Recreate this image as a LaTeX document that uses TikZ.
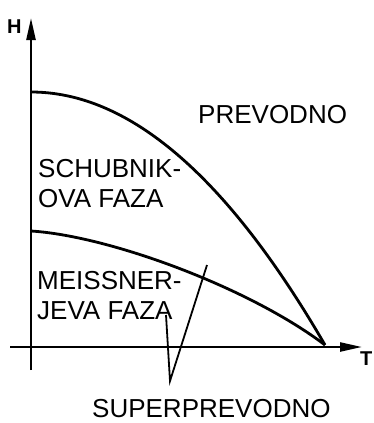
\documentclass[tikz,border=0pt]{standalone}
\usepackage{fontspec}
\setmainfont{Liberation Sans}
\usetikzlibrary{arrows.meta}

\begin{document}
\begin{tikzpicture}[
    x=1pt, y=-1pt,
    axis/.style={line width=2.4pt, -{Triangle[length=22pt, width=9pt]}},
    boundary/.style={line width=2.8pt},
    pointer/.style={line width=1.8pt},
    region/.style={font=\fontsize{26}{30}\selectfont, inner sep=0pt, align=left},
    axislabel/.style={font=\bfseries\fontsize{20}{20}\selectfont, inner sep=0pt}
]
\useasboundingbox (0,0) rectangle (374,423);

% Axes
\coordinate (origin) at (31,347);
\coordinate (hstart) at (10,347);
\coordinate (hend) at (362,347);
\coordinate (vstart) at (31,370);
\coordinate (vend) at (31,18);
\draw[axis] (hstart) -- (hend);
\draw[axis] (vstart) -- (vend);
\node[axislabel, anchor=base west] (hlabel) at (7,33) {H};
\node[axislabel, anchor=base west] (tlabel) at (360,365) {T};

% Phase boundaries
\coordinate (hctwo) at (31,92);
\coordinate (hcone) at (31,231);
\coordinate (tc) at (325,345);
\draw[boundary] (hctwo) .. controls (129,92) and (227,176) .. (tc);
\draw[boundary] (hcone) .. controls (110,236) and (250,288) .. (tc);

% Regions
\node[region, anchor=base west] (prevodno) at (198,123) {PREVODNO};
\node[region, anchor=north west] (schubnik) at (38,159.5) {SCHUBNIK-\\OVA FAZA};
\node[region, anchor=north west] (meissner) at (37,271.5) {MEISSNER-\\JEVA FAZA};
\node[region, anchor=base west] (super) at (92,417) {SUPERPREVODNO};

% Pointer to the superconducting phases
\coordinate (vtip) at (170,381);
\coordinate (pleft) at (166,315);
\coordinate (pright) at (207,265);
\draw[pointer] (pleft) -- (vtip) -- (pright);
\end{tikzpicture}
\end{document}
